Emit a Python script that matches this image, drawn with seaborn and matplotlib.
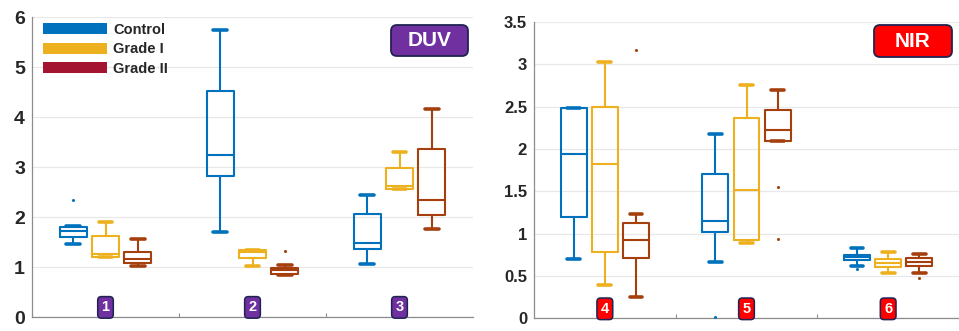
import matplotlib
matplotlib.use("Agg")
import matplotlib.pyplot as plt
from matplotlib.patches import Patch, FancyBboxPatch
from matplotlib.transforms import Affine2D, blended_transform_factory
from matplotlib.ticker import FuncFormatter
import pandas as pd
import seaborn as sns

classes = ["Control", "Grade I", "Grade II"]
duv_groups = ["1", "2", "3"]
nir_groups = ["4", "5", "6"]

# Five-number summaries per group: [lower whisker, Q1, median, Q3, upper whisker]
duv_control = [[1.47, 1.61, 1.73, 1.80, 1.83], [1.71, 2.82, 3.25, 4.52, 5.75], [1.06, 1.36, 1.49, 2.07, 2.45]]
duv_grade1 = [[1.20, 1.20, 1.27, 1.62, 1.91], [1.03, 1.19, 1.30, 1.35, 1.35], [2.57, 2.57, 2.63, 2.99, 3.31]]
duv_grade2 = [[1.03, 1.08, 1.17, 1.30, 1.57], [0.85, 0.87, 0.94, 0.99, 1.05], [1.76, 2.04, 2.34, 3.37, 4.15]]

nir_control = [[0.70, 1.20, 1.94, 2.48, 2.48], [0.67, 1.02, 1.15, 1.70, 2.18], [0.62, 0.69, 0.72, 0.75, 0.83]]
nir_grade1 = [[0.39, 0.78, 1.82, 2.50, 3.03], [0.89, 0.92, 1.52, 2.37, 2.76], [0.54, 0.61, 0.65, 0.70, 0.78]]
nir_grade2 = [[0.25, 0.71, 0.92, 1.13, 1.23], [2.09, 2.10, 2.23, 2.46, 2.70], [0.53, 0.62, 0.66, 0.71, 0.76]]

# Outlying observations: (group, class, value)
duv_outliers = [("1", "Control", 2.35), ("2", "Grade II", 1.33)]
nir_outliers = [("4", "Grade II", 3.17), ("5", "Control", 0.01), ("5", "Grade II", 1.55),
                ("5", "Grade II", 0.94), ("6", "Control", 0.58), ("6", "Grade II", 0.48)]

duv_ticks = [0, 1, 2, 3, 4, 5, 6]
nir_ticks = [0, 0.5, 1, 1.5, 2, 2.5, 3, 3.5]

line_colors = ["#0072BD", "#EDB120", "#A5400E"]
legend_colors = ["#0072BD", "#EDB120", "#A2142F"]
navy = "#1F2352"

sns.set_theme(style="whitegrid")
plt.rcParams["font.family"] = ["Liberation Sans", "DejaVu Sans"]

W, H = 959, 331
fig = plt.figure(figsize=(W / 100, H / 100), dpi=100)
px = Affine2D().scale(1 / fig.dpi) + fig.dpi_scale_trans  # figure pixel units


def long_table(groups, series):
    rows = []
    for cls, summaries in zip(classes, series):
        for g, vals in zip(groups, summaries):
            rows += [(g, cls, v) for v in vals]
    return pd.DataFrame(rows, columns=["group", "class", "value"])


BOX_WIDTH = 0.66


def draw_panel(ax, groups, series, outliers, ticks, ymax, tick_size, badge_color):
    df = long_table(groups, series)
    sns.boxplot(data=df, x="group", y="value", hue="class", order=groups, hue_order=classes,
                palette=line_colors, saturation=1, fill=False, width=BOX_WIDTH, gap=0.17,
                linewidth=1.5, whis=1.5, showfliers=False, legend=False, ax=ax,
                capprops=dict(linewidth=2.6))
    # outliers at the dodged box positions
    for g, cls, v in outliers:
        x = groups.index(g) + (classes.index(cls) - 1) * BOX_WIDTH / 3
        ax.plot([x], [v], "o", ms=2.2, color=line_colors[classes.index(cls)],
                mec="none", clip_on=False, zorder=4)
    ax.set_xlim(-0.5, 2.5)
    ax.set_ylim(0, ymax)
    ax.set_yticks(ticks)
    ax.yaxis.set_major_formatter(FuncFormatter(lambda v, _: f"{v:g}"))
    ax.set_xticks([0.5, 1.5])
    ax.set_xticklabels([])
    ax.set_xlabel("")
    ax.set_ylabel("")
    ax.grid(axis="x", visible=False)
    ax.grid(axis="y", color="#E8E8E8", linewidth=0.9)
    for s in ["top", "right"]:
        ax.spines[s].set_visible(False)
    for s in ["left", "bottom"]:
        ax.spines[s].set_visible(True)
        ax.spines[s].set_color("#8C8C8C")
        ax.spines[s].set_linewidth(0.9)
    ax.tick_params(axis="x", direction="in", length=3, width=0.8, color="#8C8C8C", bottom=True)
    ax.tick_params(axis="y", length=0, pad=5, labelsize=tick_size, labelcolor="#262626")
    for lab in ax.get_yticklabels():
        lab.set_fontweight("bold")
    ax.set_facecolor("white")
    # group number badges
    tr = blended_transform_factory(ax.transData, ax.transAxes)
    for i, g in enumerate(groups):
        ax.text(i, 0.032, g, transform=tr, ha="center", va="center", color="white",
                fontsize=10.5, fontweight="bold", clip_on=False, zorder=6,
                bbox=dict(boxstyle="round,pad=0.26,rounding_size=0.25", fc=badge_color,
                          ec=navy, lw=1.1))


def title_badge(x0, y_top, w, h, label, color):
    y0 = H - y_top - h
    fig.patches.append(FancyBboxPatch((x0, y0), w, h, boxstyle="round,pad=0,rounding_size=6",
                                      transform=px, fc=color, ec=navy, lw=1.3, figure=fig))
    fig.text(x0 + w / 2, y0 + h / 2 - 0.5, label, transform=px, ha="center", va="center",
             color="white", fontsize=15, fontweight="bold")


ax1 = fig.add_axes([32 / W, (H - 317) / H, 441 / W, 300 / H])
draw_panel(ax1, duv_groups, [duv_control, duv_grade1, duv_grade2], duv_outliers,
           duv_ticks, 6, 14, "#7030A0")

ax2 = fig.add_axes([534 / W, (H - 318.3) / H, 425 / W, 296.3 / H])
draw_panel(ax2, nir_groups, [nir_control, nir_grade1, nir_grade2], nir_outliers,
           nir_ticks, 3.5, 12, "#FF0000")

handles = [Patch(facecolor=c, edgecolor="none") for c in legend_colors]
ax1.legend(handles, classes, loc="upper left", bbox_to_anchor=(11 / 441, 1 - 6 / 300),
           frameon=False, borderpad=0, borderaxespad=0, handlelength=4.4, handleheight=0.78,
           handletextpad=0.4, labelspacing=0.37, prop=dict(size=10.5, weight="bold"))

title_badge(391, 25, 77, 31, "DUV", "#7030A0")
title_badge(874, 25, 78, 32, "NIR", "#FF0000")

fig.savefig("out.png", dpi=100, facecolor="white")
